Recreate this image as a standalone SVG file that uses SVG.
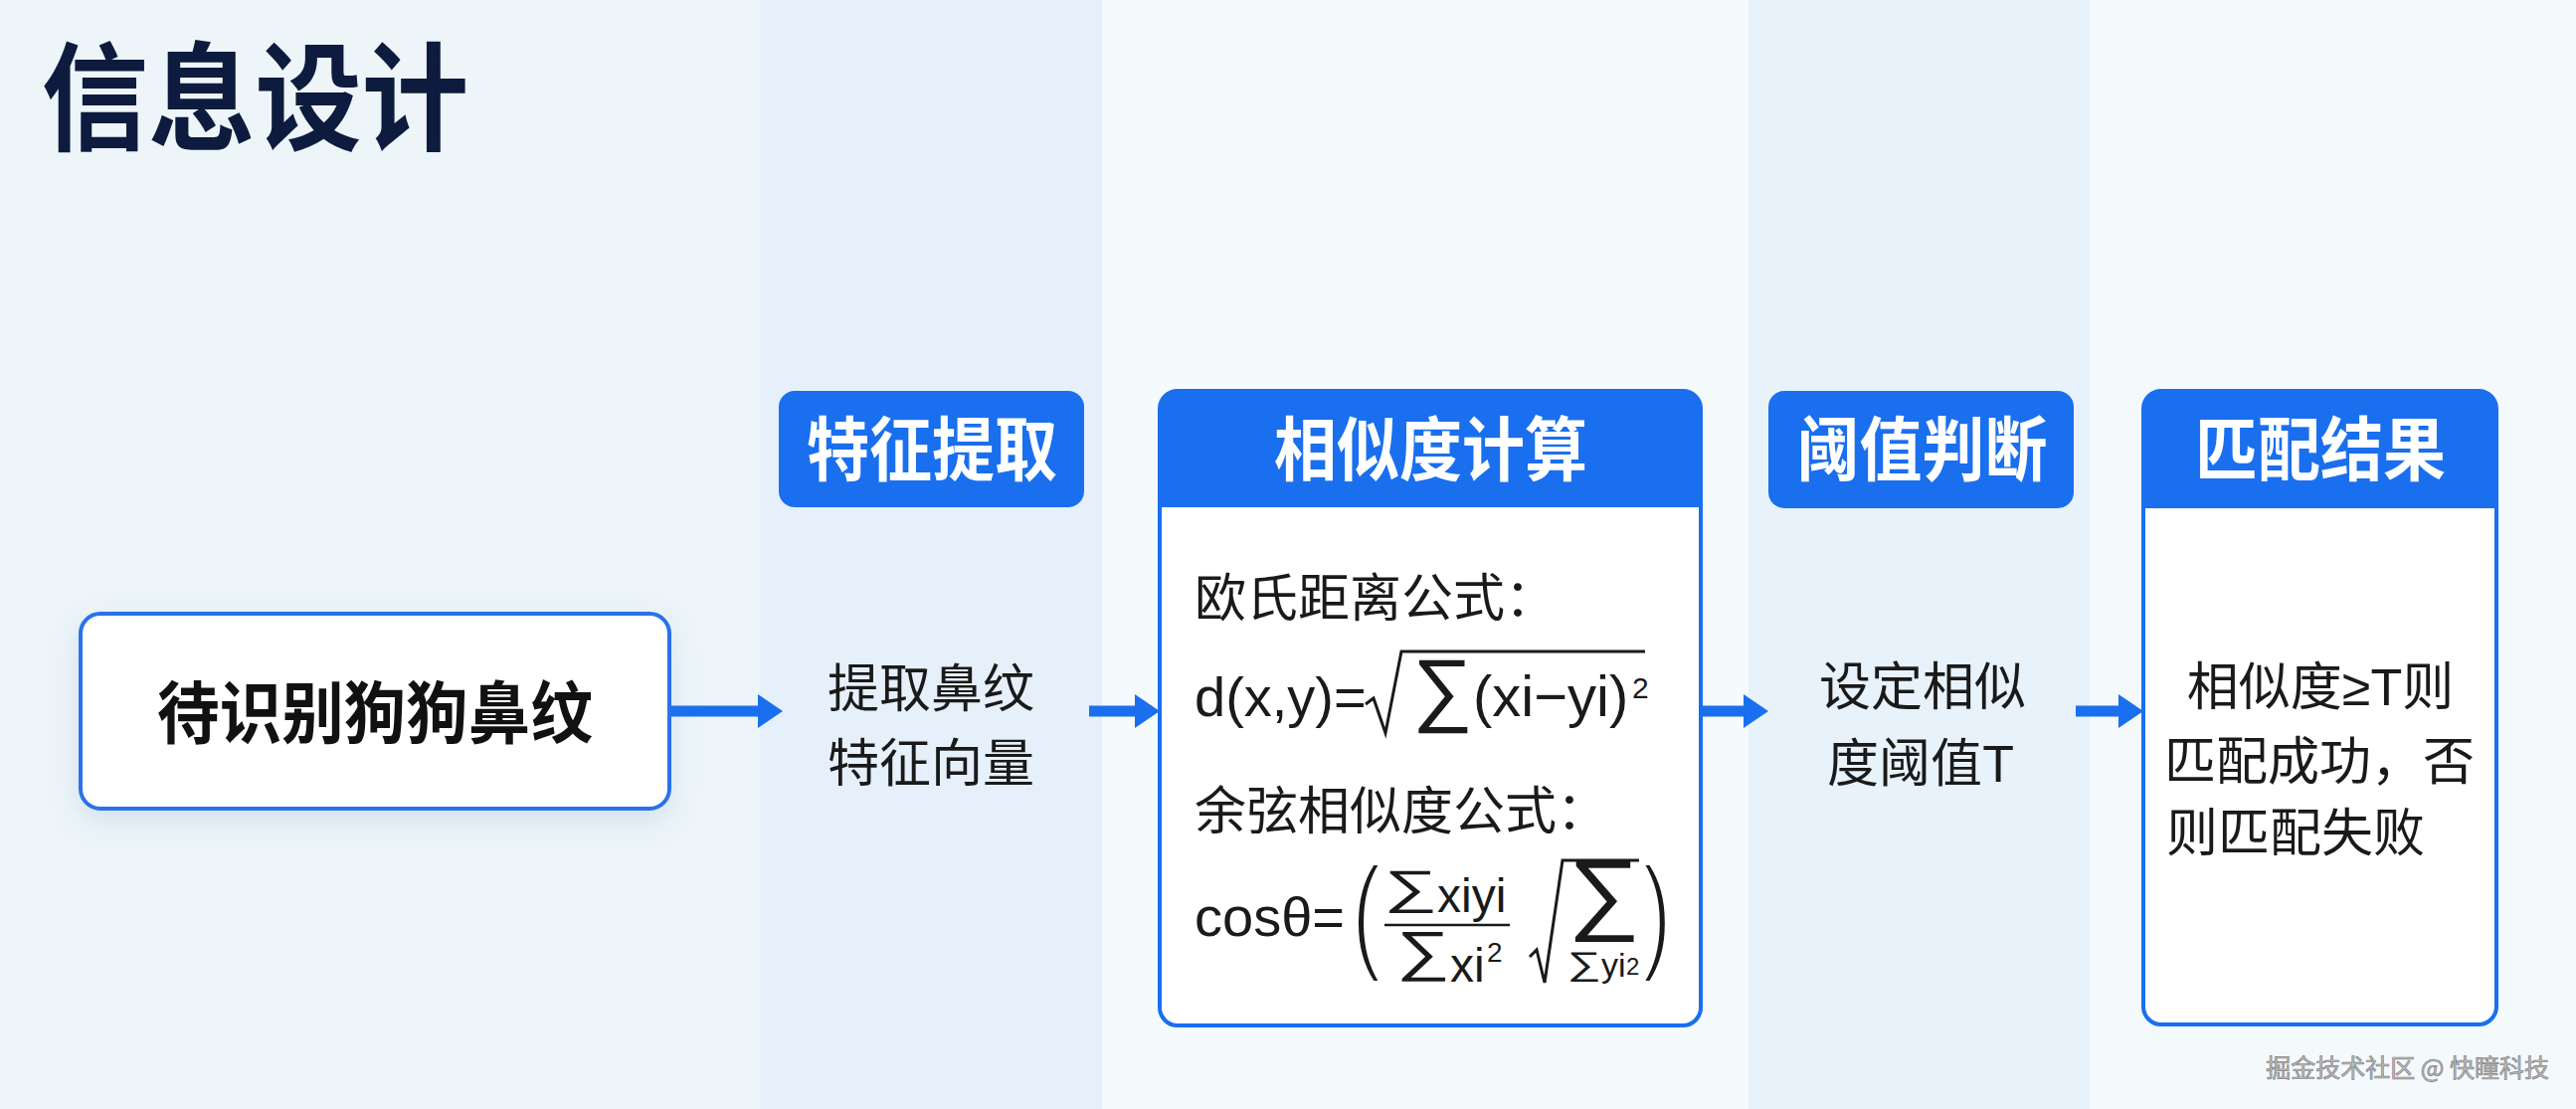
<svg xmlns="http://www.w3.org/2000/svg" width="2590" height="1115" viewBox="0 0 2590 1115">
  <defs>
    <filter id="shadow" x="-20%" y="-30%" width="140%" height="170%">
      <feDropShadow dx="0" dy="10" stdDeviation="14" flood-color="#5a7fb0" flood-opacity="0.18"/>
    </filter>
    <marker id="arrowhead" markerUnits="userSpaceOnUse" markerWidth="25" markerHeight="34" refX="0" refY="17" orient="auto">
      <path d="M0,0 L25,17 L0,34 Z" fill="#1a6fef"/>
    </marker>
    <style>
      .cjk { font-family: "Noto Sans CJK SC", "Noto Sans", sans-serif; }
      .lat { font-family: "Liberation Sans", Arial, sans-serif; }
      .title { font-size: 118px; font-weight: 700; fill: #0d1b3e; }
      .node1 { font-size: 68px; font-weight: 700; fill: #111111; }
      .head { font-size: 70px; font-weight: 700; fill: #ffffff; }
      .body { font-size: 52px; font-weight: 400; fill: #1a1a1a; }
      .math { font-family: "Liberation Sans", Arial, sans-serif; fill: #1a1a1a; }
      .paren { stroke: #ffffff; stroke-width: 4; }
      .conn { stroke: #1a6fef; stroke-width: 11; fill: none; }
      .hbox { fill: #1a6fef; }
      .card { fill: #ffffff; stroke: #1a6fef; stroke-width: 4; }
      .rad { fill: none; stroke: #1a1a1a; stroke-width: 3; stroke-linejoin: miter; }
      .wm { font-size: 25px; }
    </style>
  </defs>

  <!-- background bands -->
  <g id="background">
    <rect x="0" y="0" width="2590" height="1115" fill="#f1f7fb"/>
    <rect x="0" y="0" width="764" height="1115" fill="#edf5f9"/>
    <rect x="764" y="0" width="344" height="1115" fill="#e6f0fa"/>
    <rect x="1108" y="0" width="650" height="1115" fill="#f5fafc"/>
    <rect x="1758" y="0" width="343" height="1115" fill="#e7f2fa"/>
    <rect x="2101" y="0" width="489" height="1115" fill="#f4f9fc"/>
  </g>

  <g id="title">
    <text class="cjk title" text-anchor="middle" transform="translate(256.5,142) scale(0.91,1)">信息设计</text>
  </g>

  <g id="connectors">
    <path class="conn" d="M673,715 H762" marker-end="url(#arrowhead)"/>
    <path class="conn" d="M1095,715 H1141" marker-end="url(#arrowhead)"/>
    <path class="conn" d="M1712,715 H1753" marker-end="url(#arrowhead)"/>
    <path class="conn" d="M2087,715 H2130" marker-end="url(#arrowhead)"/>
  </g>

  <g id="node-input">
    <rect x="81" y="617" width="592" height="196" rx="20" fill="#ffffff" stroke="#2a72e8" stroke-width="4" filter="url(#shadow)"/>
    <text class="cjk node1" text-anchor="middle" transform="translate(377,742) scale(0.92,1)">待识别狗狗鼻纹</text>
  </g>

  <g id="node-feature">
    <rect class="hbox" x="783" y="393" width="307" height="117" rx="16"/>
    <text class="cjk head" text-anchor="middle" transform="translate(937,478) scale(0.9,1)">特征提取</text>
    <text class="cjk body" x="936" y="711" text-anchor="middle">提取鼻纹</text>
    <text class="cjk body" x="936" y="786" text-anchor="middle">特征向量</text>
  </g>

  <g id="node-similarity">
    <rect class="card" x="1166" y="393" width="544" height="638" rx="18"/>
    <path class="hbox" d="M1166,510 V411 Q1166,393 1184,393 H1692 Q1710,393 1710,411 V510 Z"/>
    <text class="cjk head" text-anchor="middle" transform="translate(1438.5,478) scale(0.9,1)">相似度计算</text>
    <text class="cjk body" x="1201" y="620">欧氏距离公式：</text>
    <!-- formula 1 -->
    <text class="math" x="1201" y="720" font-size="56">d(x,y)=</text>
    <path class="rad" d="M1373,708 L1381,702 L1393,737 L1409,655 H1654"/>
    <text class="math" x="1420" y="720" font-size="82" textLength="61" lengthAdjust="spacingAndGlyphs">∑</text>
    <text class="math" x="1481" y="720" font-size="58">(xi−yi)</text>
    <text class="math" x="1641" y="702" font-size="30">2</text>
    <text class="cjk body" x="1201" y="834">余弦相似度公式：</text>
    <!-- formula 2 -->
    <text class="math" x="1201" y="941" font-size="56">cosθ=</text>
    <text class="math paren" font-size="128" transform="translate(1359,961) scale(0.7,1)">(</text>
    <text class="math" x="1391" y="908" font-size="47" textLength="54" lengthAdjust="spacingAndGlyphs">∑</text>
    <text class="math" x="1445" y="917" font-size="48">xiyi</text>
    <line x1="1392" y1="930" x2="1518" y2="930" stroke="#1a1a1a" stroke-width="2.7"/>
    <text class="math" x="1404" y="975" font-size="55" textLength="54" lengthAdjust="spacingAndGlyphs">∑</text>
    <text class="math" x="1458" y="987" font-size="48">xi</text>
    <text class="math" x="1495" y="967" font-size="28">2</text>
    <path class="rad" d="M1538,962 L1545,955 L1553,988 L1571,865 H1648" stroke-width="2.5"/>
    <text class="math" x="1576" y="928" font-size="90" textLength="73" lengthAdjust="spacingAndGlyphs">∑</text>
    <text class="math" x="1576" y="980" font-size="33" textLength="34" lengthAdjust="spacingAndGlyphs">∑</text>
    <text class="math" x="1610" y="982" font-size="34">yi</text>
    <text class="math" x="1635" y="980" font-size="24">2</text>
    <text class="math paren" font-size="128" transform="translate(1651,961) scale(0.7,1)">)</text>
  </g>

  <g id="node-threshold">
    <rect class="hbox" x="1778" y="393" width="307" height="118" rx="16"/>
    <text class="cjk head" text-anchor="middle" transform="translate(1932.5,478) scale(0.9,1)">阈值判断</text>
    <text class="cjk body" x="1933" y="709" text-anchor="middle">设定相似</text>
    <text class="cjk body" x="1931" y="786" text-anchor="middle">度阈值<tspan class="lat">T</tspan></text>
  </g>

  <g id="node-result">
    <rect class="card" x="2155" y="393" width="355" height="637" rx="18"/>
    <path class="hbox" d="M2155,511 V411 Q2155,393 2173,393 H2492 Q2510,393 2510,411 V511 Z"/>
    <text class="cjk head" text-anchor="middle" transform="translate(2333,478) scale(0.9,1)">匹配结果</text>
    <text class="cjk body" x="2333" y="709" text-anchor="middle">相似度<tspan class="lat">≥T</tspan>则</text>
    <text class="cjk body" x="2332" y="784" text-anchor="middle">匹配成功，否</text>
    <text class="cjk body" x="2178" y="856">则匹配失败</text>
  </g>

  <g id="watermark">
    <text class="cjk wm" x="2564" y="1084" text-anchor="end" fill="#ffffff">掘金技术社区 @ 快瞳科技</text>
    <text class="cjk wm" x="2563" y="1083" text-anchor="end" fill="#bdbdbd" stroke="#7f7f7f" stroke-width="0.7">掘金技术社区 @ 快瞳科技</text>
  </g>
</svg>
